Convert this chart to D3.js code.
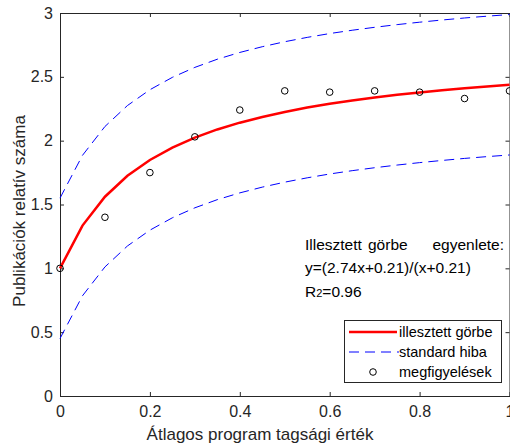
<!DOCTYPE html>
<html>
<head>
<meta charset="utf-8">
<script src="https://cdn.jsdelivr.net/npm/d3@7"></script>
<style>
  body { margin: 0; background: #fff; }
  svg { font-family: "Liberation Sans", Arial, sans-serif; }
</style>
</head>
<body>
<div id="chart"></div>
<script>
// Megfigyelések
const obsX = [0, 0.1, 0.2, 0.3, 0.4, 0.5, 0.6, 0.7, 0.8, 0.9, 1.0];
const obsY = [1.0, 1.40, 1.75, 2.03, 2.24, 2.39, 2.38, 2.39, 2.38, 2.33, 2.39];

// Illesztett görbe és standard hiba sávok (0.05-ös lépés)
const curveX = [0, 0.05, 0.1, 0.15, 0.2, 0.25, 0.3, 0.35, 0.4, 0.45, 0.5,
  0.55, 0.6, 0.65, 0.7, 0.75, 0.8, 0.85, 0.9, 0.95, 1.0];
const fitY = [1.0, 1.335, 1.561, 1.725, 1.849, 1.946, 2.024, 2.088, 2.141, 2.186, 2.225,
  2.259, 2.289, 2.315, 2.338, 2.359, 2.378, 2.395, 2.411, 2.425, 2.438];
const upperY = [1.55, 1.885, 2.111, 2.275, 2.399, 2.496, 2.574, 2.638, 2.691, 2.736, 2.775,
  2.809, 2.839, 2.865, 2.888, 2.909, 2.928, 2.945, 2.961, 2.975, 2.988];
const lowerY = [0.45, 0.785, 1.011, 1.175, 1.299, 1.396, 1.474, 1.538, 1.591, 1.636, 1.675,
  1.709, 1.739, 1.765, 1.788, 1.809, 1.828, 1.845, 1.861, 1.875, 1.888];

const xTicks = [0, 0.2, 0.4, 0.6, 0.8, 1];
const yTicks = [0, 0.5, 1, 1.5, 2, 2.5, 3];

const W = 510, H = 447;
const margin = { top: 13, right: 0.5, bottom: 51, left: 60 };
const width = W - margin.left - margin.right;
const height = H - margin.top - margin.bottom;

const x = d3.scaleLinear().domain([0, 1]).range([0, width]);
const y = d3.scaleLinear().domain([0, 3]).range([height, 0]);

const svg = d3.select("#chart").append("svg")
  .attr("width", W).attr("height", H);
const g = svg.append("g")
  .attr("transform", `translate(${margin.left},${margin.top})`);

const fmt = d => d3.format("")(d);

// Tengelyek (befelé mutató osztásokkal)
function styleAxis(sel) {
  sel.select(".domain").attr("stroke", "#262626");
  sel.selectAll(".tick line").attr("stroke", "#262626");
  sel.selectAll("text").attr("fill", "#262626").style("font-size", "16px");
}
g.append("g").attr("transform", `translate(0,${height})`)
  .call(d3.axisBottom(x).tickValues(xTicks).tickFormat(fmt).tickSizeInner(-4).tickSizeOuter(0).tickPadding(10))
  .call(styleAxis);
g.append("g")
  .call(d3.axisLeft(y).tickValues(yTicks).tickFormat(fmt).tickSizeInner(-4).tickSizeOuter(0).tickPadding(7))
  .call(styleAxis);
g.append("g")
  .call(d3.axisTop(x).tickValues(xTicks).tickFormat("").tickSizeInner(-4).tickSizeOuter(0))
  .call(styleAxis);
g.append("g").attr("transform", `translate(${width},0)`)
  .call(d3.axisRight(y).tickValues(yTicks).tickFormat("").tickSizeInner(-4).tickSizeOuter(0))
  .call(styleAxis);

// Vonalak
const mk = ys => d3.line().x((d, i) => x(curveX[i])).y(d => y(d))(ys);

g.append("path").attr("d", mk(upperY))
  .attr("fill", "none").attr("stroke", "#0000ff").attr("stroke-width", 1)
  .attr("stroke-dasharray", "10,6");
g.append("path").attr("d", mk(lowerY))
  .attr("fill", "none").attr("stroke", "#0000ff").attr("stroke-width", 1)
  .attr("stroke-dasharray", "10,6");
g.append("path").attr("d", mk(fitY))
  .attr("fill", "none").attr("stroke", "#ff0000").attr("stroke-width", 2.5);

g.selectAll(".dot").data(obsY).enter().append("circle")
  .attr("cx", (d, i) => x(obsX[i]))
  .attr("cy", d => y(d))
  .attr("r", 3.3)
  .attr("fill", "none").attr("stroke", "#000").attr("stroke-width", 1);

// Tengelyfeliratok
svg.append("text")
  .attr("x", 260).attr("y", 440)
  .attr("text-anchor", "middle").style("font-size", "17px").attr("fill", "#262626")
  .text("Átlagos program tagsági érték");
svg.append("text")
  .attr("transform", "translate(25,211) rotate(-90)")
  .attr("text-anchor", "middle").style("font-size", "17px").attr("fill", "#262626")
  .text("Publikációk relatív száma");

// Egyenlet (sorkizárt első sor)
const ann = svg.append("g").style("font-size", "15.5px").attr("fill", "#000");
ann.append("text").attr("x", 305).attr("y", 250).text("Illesztett");
ann.append("text").attr("x", 368).attr("y", 250).text("görbe");
ann.append("text").attr("x", 504).attr("y", 250).attr("text-anchor", "end").text("egyenlete:");
ann.append("text").attr("x", 305).attr("y", 273)
  .text("y=(2.74x+0.21)/(x+0.21)");
const r2 = ann.append("text").attr("x", 305).attr("y", 297);
r2.append("tspan").text("R");
r2.append("tspan").style("font-size", "11px").text("2");
r2.append("tspan").text("=0.96");

// Jelmagyarázat
const lg = svg.append("g").attr("transform", "translate(344,320)");
lg.append("rect").attr("x", 0.5).attr("y", 0.5).attr("width", 157).attr("height", 62)
  .attr("fill", "#fff").attr("stroke", "#262626").attr("stroke-width", 1);
const items = [
  { label: "illesztett görbe", type: "fit" },
  { label: "standard hiba", type: "se" },
  { label: "megfigyelések", type: "obs" }
];
items.forEach((it, i) => {
  const yy = 12 + i * 20;
  if (it.type === "fit") {
    lg.append("line").attr("x1", 5).attr("x2", 53).attr("y1", yy).attr("y2", yy)
      .attr("stroke", "#ff0000").attr("stroke-width", 2.5);
  } else if (it.type === "se") {
    lg.append("line").attr("x1", 5).attr("x2", 55).attr("y1", yy).attr("y2", yy)
      .attr("stroke", "#0000ff").attr("stroke-width", 1).attr("stroke-dasharray", "10,6");
  } else {
    lg.append("circle").attr("cx", 29).attr("cy", yy).attr("r", 3.3)
      .attr("fill", "none").attr("stroke", "#000");
  }
  lg.append("text").attr("x", 55).attr("y", yy + 5)
    .style("font-size", "14.5px").attr("fill", "#000").text(it.label);
});
</script>
</body>
</html>
